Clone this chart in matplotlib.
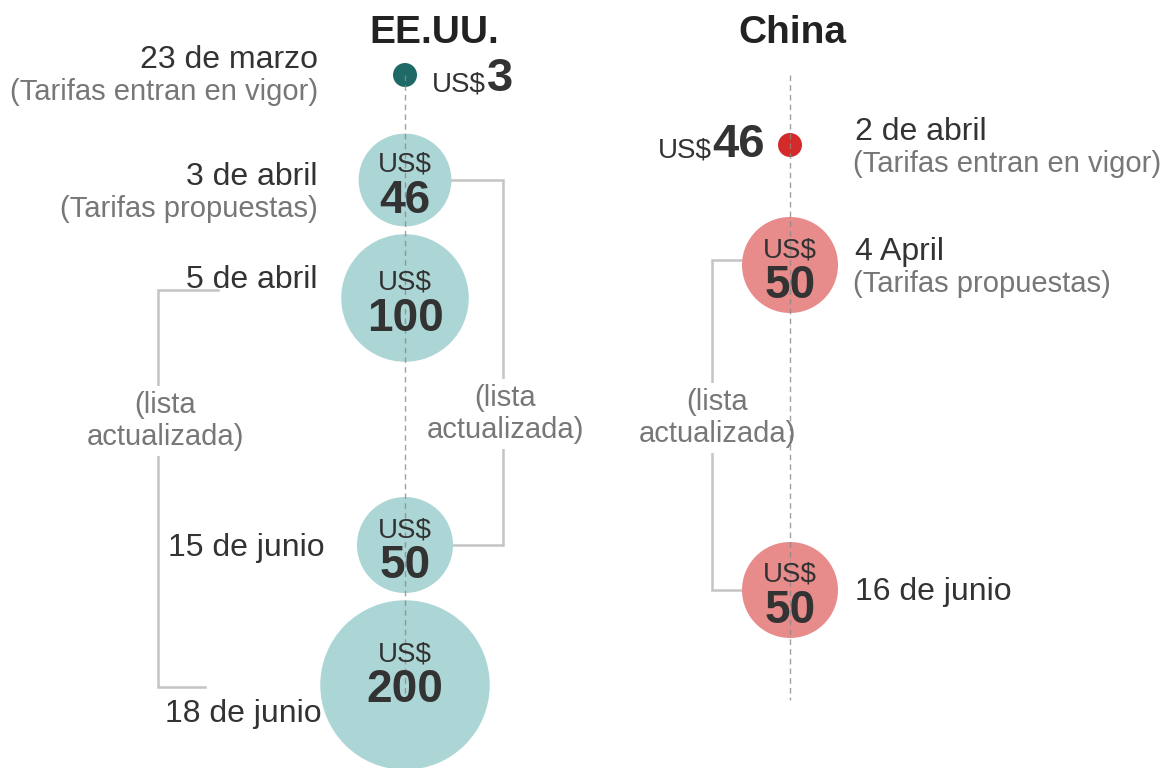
import matplotlib
matplotlib.use("Agg")
import matplotlib.pyplot as plt
from matplotlib.patches import Circle

plt.rcParams['font.family'] = ['Liberation Sans', 'DejaVu Sans']

# ---- data (billion US$ of goods hit by tariffs) ----
US_DATES = ["23 de marzo", "3 de abril", "5 de abril", "15 de junio", "18 de junio"]
US_NOTES = ["(Tarifas entran en vigor)", "(Tarifas propuestas)", "", "", ""]
US_VALUES = [3, 46, 100, 50, 200]

CN_DATES = ["2 de abril", "4 April", "16 de junio"]
CN_NOTES = ["(Tarifas entran en vigor)", "(Tarifas propuestas)", ""]
CN_VALUES = [46, 50, 50]

BRACKET_TEXT = "(lista\nactualizada)"

# ---- layout (pixel space, y grows downward) ----
US_X, CN_X = 405, 790
US_Y = [75, 180, 298, 545, 685]
CN_Y = [145, 265, 590]
US_IS_DOT = [True, False, False, False, False]
CN_IS_DOT = [True, False, False]
US_LABEL_BASE = [68, 185, 288, 556, 722]
US_LABEL_X = [318, 318, 318, 325, 322]
CN_LABEL_BASE = [140, 260, 600]
CN_LABEL_X = 855
LINE_TOP, LINE_BOTTOM = 75, 700
BUBBLE_TXT_SHIFT = {200: -16}

US_BUBBLE, US_DOT_C = "#acd6d5", "#1f6a66"
CN_BUBBLE, CN_DOT_C = "#e88b8b", "#d42a2a"
DARK, GREY, LINE = "#333333", "#777777", "#c4c4c4"


def radius(v, dot):
    return 12 if dot else 48 * (v / 50) ** 0.41


fig = plt.figure(figsize=(11.66, 7.68), dpi=100)
ax = fig.add_axes([0, 0, 1, 1])
ax.set_xlim(0, 1166)
ax.set_ylim(768, 0)
ax.axis("off")
renderer = fig.canvas.get_renderer()


def value_pair(x, y, v, side):
    # "US$" regular + number bold, glued together on one baseline
    if side == "right":
        t1 = ax.text(x, y, "US$", fontsize=20, color=DARK, ha="left", va="baseline")
        x1 = ax.transData.inverted().transform(t1.get_window_extent(renderer))[1, 0]
        ax.text(x1 + 1, y, str(v), fontsize=34, fontweight="bold", color=DARK,
                ha="left", va="baseline")
    else:
        t2 = ax.text(x, y, str(v), fontsize=34, fontweight="bold", color=DARK,
                     ha="right", va="baseline")
        x0 = ax.transData.inverted().transform(t2.get_window_extent(renderer))[0, 0]
        ax.text(x0 - 1, y, "US$", fontsize=20, color=DARK, ha="right", va="baseline")


def draw_column(cx, ys, values, dots, bcol, dcol):
    for y, v, d in zip(ys, values, dots):
        r = radius(v, d)
        ax.add_patch(Circle((cx, y), r, facecolor=dcol if d else bcol,
                            edgecolor="none", zorder=2))
        if not d:
            s = BUBBLE_TXT_SHIFT.get(v, 0)
            ax.text(cx, y - 8 + s, "US$", fontsize=20, color=DARK,
                    ha="center", va="baseline", zorder=4)
            ax.text(cx, y + 33 + s, str(v), fontsize=33, fontweight="bold",
                    color=DARK, ha="center", va="baseline", zorder=4)
    ax.plot([cx, cx], [LINE_TOP, LINE_BOTTOM], color="#888888", lw=1,
            ls=(0, (4, 3)), alpha=0.8, zorder=3)


draw_column(US_X, US_Y, US_VALUES, US_IS_DOT, US_BUBBLE, US_DOT_C)
draw_column(CN_X, CN_Y, CN_VALUES, CN_IS_DOT, CN_BUBBLE, CN_DOT_C)

# titles
ax.text(434, 43, "EE.UU.", fontsize=28, fontweight="bold", color="#222222",
        ha="center", va="baseline")
ax.text(792, 43, "China", fontsize=28, fontweight="bold", color="#222222",
        ha="center", va="baseline")

# US labels (left side)
for x, b, d, n in zip(US_LABEL_X, US_LABEL_BASE, US_DATES, US_NOTES):
    ax.text(x, b, d, fontsize=23, color=DARK, ha="right", va="baseline")
    if n:
        ax.text(x, b + 32, n, fontsize=21, color=GREY, ha="right", va="baseline")
value_pair(US_X + 27, 91, US_VALUES[0], "right")

# China labels (right side)
for b, d, n in zip(CN_LABEL_BASE, CN_DATES, CN_NOTES):
    ax.text(CN_LABEL_X, b, d, fontsize=23, color=DARK, ha="left", va="baseline")
    if n:
        ax.text(CN_LABEL_X - 2, b + 32, n, fontsize=21, color=GREY,
                ha="left", va="baseline")
value_pair(CN_X - 25, 157, CN_VALUES[0], "left")

# brackets for the updated lists
r46 = radius(US_VALUES[1], False)
r50 = radius(CN_VALUES[1], False)
brackets = [
    ([US_X + r46, 503, 503, US_X + r46], [US_Y[1], US_Y[1], US_Y[3], US_Y[3]], 505, 414),
    ([218, 158, 158, 205], [290, 290, 687, 687], 165, 421),
    ([CN_X - r50, 712, 712, CN_X - r50], [260, 260, CN_Y[2], CN_Y[2]], 717, 418),
]
for bx, by, tx, ty in brackets:
    ax.plot(bx, by, color=LINE, lw=1.8, zorder=1, solid_joinstyle="miter")
    ax.text(tx, ty, BRACKET_TEXT, fontsize=21, color=GREY, ha="center",
            va="center", linespacing=1.15, zorder=1.5,
            bbox=dict(facecolor="white", edgecolor="none", pad=4))

fig.savefig("out.png", dpi=100)
